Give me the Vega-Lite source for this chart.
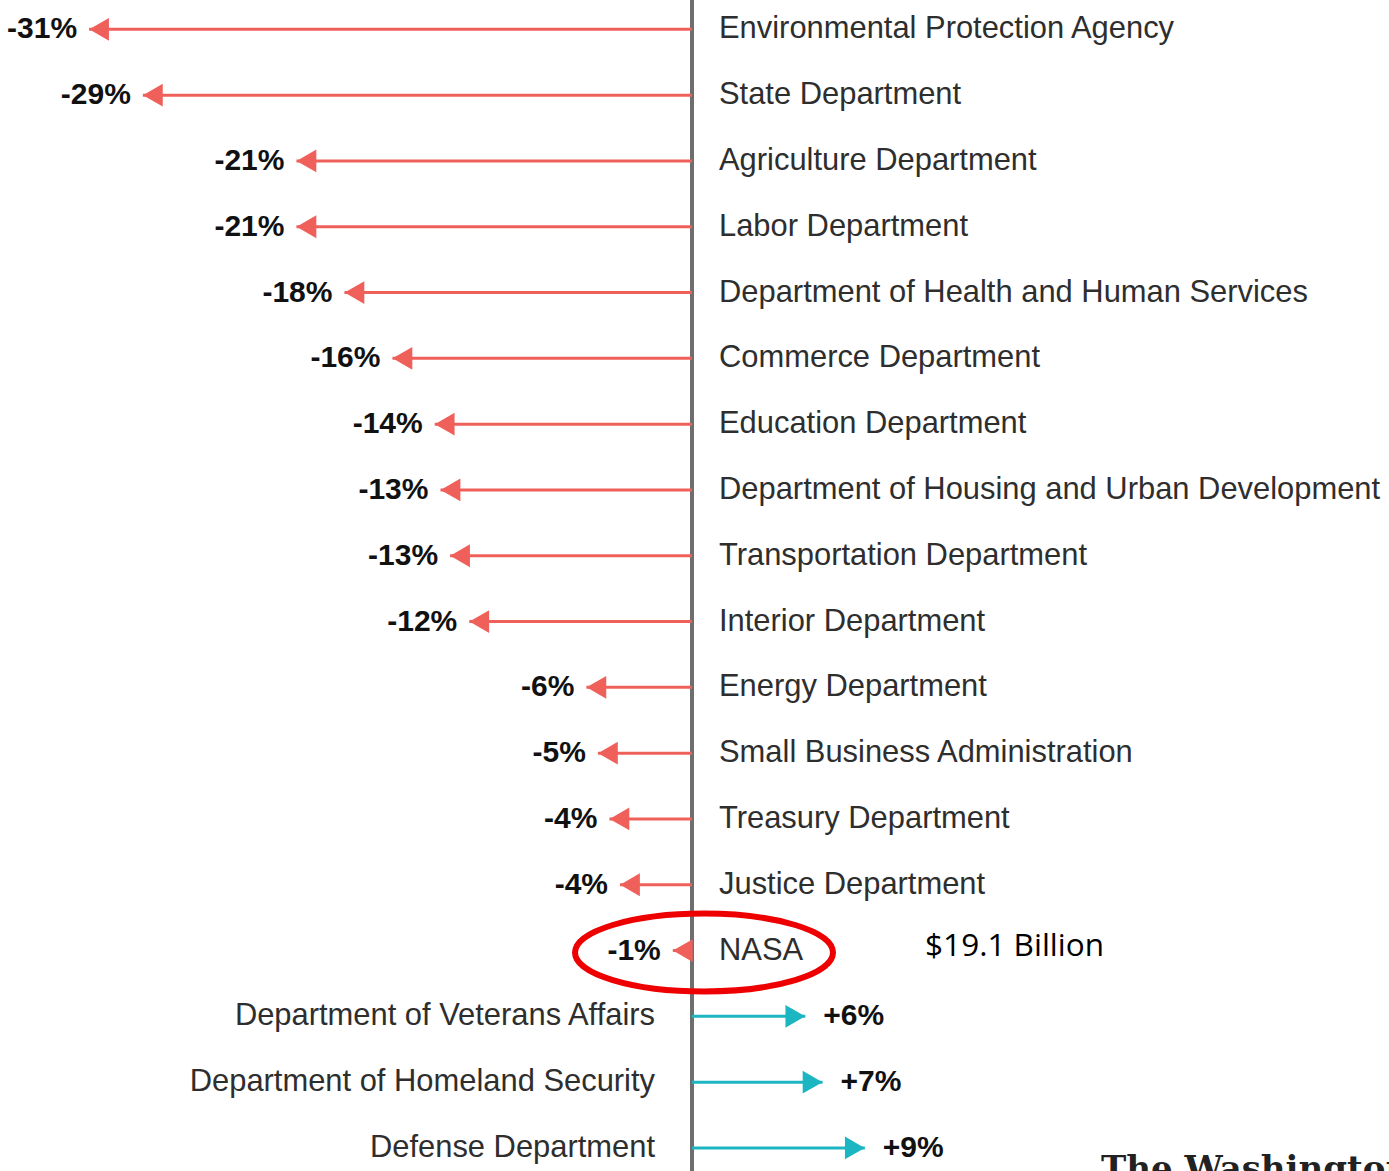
{
  "$schema": "https://vega.github.io/schema/vega-lite/v6.json",
  "width": 1389,
  "height": 1171,
  "autosize": {"type": "none"},
  "padding": 0,
  "background": "white",
  "config": {"view": {"stroke": null}},
  "data": {
    "values": [
      {"dept": "Environmental Protection Agency", "pct": -31.4, "label": "-31%"},
      {"dept": "State Department", "pct": -28.6, "label": "-29%"},
      {"dept": "Agriculture Department", "pct": -20.6, "label": "-21%"},
      {"dept": "Labor Department", "pct": -20.6, "label": "-21%"},
      {"dept": "Department of Health and Human Services", "pct": -18.1, "label": "-18%"},
      {"dept": "Commerce Department", "pct": -15.6, "label": "-16%"},
      {"dept": "Education Department", "pct": -13.4, "label": "-14%"},
      {"dept": "Department of Housing and Urban Development", "pct": -13.1, "label": "-13%"},
      {"dept": "Transportation Department", "pct": -12.6, "label": "-13%"},
      {"dept": "Interior Department", "pct": -11.6, "label": "-12%"},
      {"dept": "Energy Department", "pct": -5.5, "label": "-6%"},
      {"dept": "Small Business Administration", "pct": -4.9, "label": "-5%"},
      {"dept": "Treasury Department", "pct": -4.3, "label": "-4%"},
      {"dept": "Justice Department", "pct": -3.75, "label": "-4%"},
      {"dept": "NASA", "pct": -1.0, "label": "-1%"},
      {"dept": "Department of Veterans Affairs", "pct": 5.9, "label": "+6%"},
      {"dept": "Department of Homeland Security", "pct": 6.8, "label": "+7%"},
      {"dept": "Defense Department", "pct": 9.0, "label": "+9%"}
    ]
  },
  "layer": [
    {
      "mark": {"type": "rule", "strokeWidth": 3, "color": "#6e6e6e", "strokeCap": "butt"},
      "encoding": {
        "x": {"datum": 0, "type": "quantitative", "axis": null, "scale": {"domain": [-36.04, 36.3], "nice": false, "zero": false}}
      }
    },
    {
      "mark": {"type": "rule", "strokeWidth": 3, "strokeCap": "butt"},
      "encoding": {
        "y": {
          "field": "dept",
          "type": "nominal",
          "axis": null,
          "scale": {
            "type": "point",
            "padding": 0.398,
            "align": 0.56,
            "domain": [
              "Environmental Protection Agency", "State Department", "Agriculture Department", "Labor Department",
              "Department of Health and Human Services", "Commerce Department", "Education Department",
              "Department of Housing and Urban Development", "Transportation Department", "Interior Department",
              "Energy Department", "Small Business Administration", "Treasury Department", "Justice Department",
              "NASA", "Department of Veterans Affairs", "Department of Homeland Security", "Defense Department"
            ]
          }
        },
        "x": {"field": "pct", "type": "quantitative"},
        "x2": {"datum": 0},
        "color": {"condition": {"test": "datum.pct < 0", "value": "#f0605b"}, "value": "#1cb6c2"}
      }
    },
    {
      "transform": [{"filter": "datum.pct < 0"}],
      "mark": {"type": "point", "shape": "triangle-left", "size": 520, "filled": true, "opacity": 1, "color": "#f0605b", "xOffset": 10},
      "encoding": {"x": {"field": "pct", "type": "quantitative"}, "y": {"field": "dept", "type": "nominal"}}
    },
    {
      "transform": [{"filter": "datum.pct > 0"}],
      "mark": {"type": "point", "shape": "triangle-right", "size": 520, "filled": true, "opacity": 1, "color": "#1cb6c2", "xOffset": -10},
      "encoding": {"x": {"field": "pct", "type": "quantitative"}, "y": {"field": "dept", "type": "nominal"}}
    },
    {
      "transform": [{"filter": "datum.pct < 0"}],
      "mark": {"type": "text", "align": "left", "baseline": "middle", "dx": 27, "font": "Liberation Sans", "fontSize": 30.9, "color": "#2e2e2e"},
      "encoding": {"x": {"datum": 0, "type": "quantitative"}, "y": {"field": "dept", "type": "nominal"}, "text": {"field": "dept"}}
    },
    {
      "transform": [{"filter": "datum.pct > 0"}],
      "mark": {"type": "text", "align": "right", "baseline": "middle", "dx": -37, "font": "Liberation Sans", "fontSize": 30.9, "color": "#2e2e2e"},
      "encoding": {"x": {"datum": 0, "type": "quantitative"}, "y": {"field": "dept", "type": "nominal"}, "text": {"field": "dept"}}
    },
    {
      "transform": [{"filter": "datum.pct < 0"}],
      "mark": {"type": "text", "align": "right", "baseline": "middle", "dx": -12, "font": "Liberation Sans", "fontWeight": "bold", "fontSize": 30, "color": "#111111"},
      "encoding": {"x": {"field": "pct", "type": "quantitative"}, "y": {"field": "dept", "type": "nominal"}, "text": {"field": "label"}}
    },
    {
      "transform": [{"filter": "datum.pct > 0"}],
      "mark": {"type": "text", "align": "left", "baseline": "middle", "dx": 18, "font": "Liberation Sans", "fontWeight": "bold", "fontSize": 30, "color": "#111111"},
      "encoding": {"x": {"field": "pct", "type": "quantitative"}, "y": {"field": "dept", "type": "nominal"}, "text": {"field": "label"}}
    },
    {
      "data": {"values": [{"dept": "NASA", "cx": 0.625}]},
      "mark": {
        "type": "point",
        "shape": "M1,0C1,0.1668,0.5523,0.302,0,0.302C-0.5523,0.302,-1,0.1668,-1,0C-1,-0.1668,-0.5523,-0.302,0,-0.302C0.5523,-0.302,1,-0.1668,1,0Z",
        "size": 66564,
        "filled": false,
        "opacity": 1,
        "stroke": "#ee0000",
        "strokeWidth": 6,
        "yOffset": 2
      },
      "encoding": {"x": {"field": "cx", "type": "quantitative"}, "y": {"field": "dept", "type": "nominal"}}
    },
    {
      "data": {"values": [{"dept": "NASA", "tx": 12.14, "note": "$19.1 Billion"}]},
      "mark": {"type": "text", "align": "left", "baseline": "middle", "yOffset": -4, "font": "Open Sans", "fontSize": 31.5, "color": "#000000"},
      "encoding": {"x": {"field": "tx", "type": "quantitative"}, "y": {"field": "dept", "type": "nominal"}, "text": {"field": "note"}}
    },
    {
      "data": {"values": [{"dept": "Defense Department", "tx": 21.3, "logo": "The Washington Post"}]},
      "mark": {"type": "text", "align": "left", "baseline": "alphabetic", "yOffset": 32, "font": "DejaVu Serif", "fontWeight": "bold", "fontSize": 34, "color": "#222222"},
      "encoding": {"x": {"field": "tx", "type": "quantitative"}, "y": {"field": "dept", "type": "nominal"}, "text": {"field": "logo"}}
    }
  ]
}
